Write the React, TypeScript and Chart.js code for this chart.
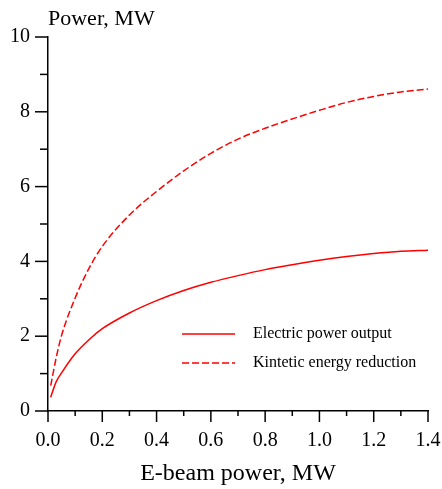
import { useEffect, useRef } from 'react';
import { Chart, registerables } from 'chart.js';

Chart.register(...registerables);

const beamPower = [0.01, 0.03, 0.05, 0.1, 0.15, 0.2, 0.3, 0.4, 0.5, 0.6, 0.7, 0.8, 0.9, 1.0, 1.1, 1.2, 1.3, 1.4];
const electricOutput = [0.37, 0.78, 1.02, 1.53, 1.9, 2.2, 2.62, 2.95, 3.22, 3.44, 3.62, 3.78, 3.91, 4.03, 4.13, 4.21, 4.27, 4.3];
const kineticReduction = [0.68, 1.42, 2.02, 3.02, 3.8, 4.4, 5.24, 5.87, 6.42, 6.89, 7.27, 7.56, 7.81, 8.04, 8.25, 8.41, 8.53, 8.61];
const seriesLabels = ['Electric power output', 'Kintetic energy reduction'];
const yTitle = 'Power, MW';
const xTitle = 'E-beam power, MW';

const FONT = "'Liberation Serif', 'Times New Roman', serif";

const tickMarks = {
  id: 'tickMarks',
  afterDraw(chart: any) {
    const ctx = chart.ctx;
    const xs = chart.scales.x;
    const ys = chart.scales.y;
    ctx.save();
    ctx.strokeStyle = '#000';
    ctx.lineWidth = 1.5;
    xs.ticks.forEach((t: any) => {
      const i = Math.round(t.value * 10);
      const px = xs.getPixelForValue(t.value);
      const len = i % 2 === 0 ? 11 : 5;
      ctx.beginPath();
      ctx.moveTo(px, xs.top);
      ctx.lineTo(px, xs.top + len);
      ctx.stroke();
    });
    ys.ticks.forEach((t: any) => {
      const i = Math.round(t.value);
      const py = ys.getPixelForValue(t.value);
      const len = i % 2 === 0 ? 13 : 8;
      ctx.beginPath();
      ctx.moveTo(ys.right, py);
      ctx.lineTo(ys.right - len, py);
      ctx.stroke();
    });
    ctx.restore();
  },
};

const titleAndLegend = {
  id: 'titleAndLegend',
  afterDraw(chart: any) {
    const ctx = chart.ctx;
    const area = chart.chartArea;
    ctx.save();
    ctx.fillStyle = '#000';
    ctx.font = `22px ${FONT}`;
    ctx.textAlign = 'left';
    ctx.textBaseline = 'alphabetic';
    ctx.fillText(yTitle, area.left, 25);

    const x0 = area.left + 134;
    const x1 = area.left + 187;
    const tx = area.left + 205;
    const rows = [area.top + 297, area.top + 326];
    chart.data.datasets.forEach((ds: any, i: number) => {
      ctx.strokeStyle = ds.borderColor;
      ctx.lineWidth = 1.5;
      ctx.setLineDash(ds.borderDash || []);
      ctx.beginPath();
      ctx.moveTo(x0, rows[i]);
      ctx.lineTo(x1, rows[i]);
      ctx.stroke();
      ctx.setLineDash([]);
      ctx.fillStyle = '#000';
      ctx.font = `16px ${FONT}`;
      ctx.textBaseline = 'middle';
      ctx.fillText(ds.label, tx, rows[i]);
    });
    ctx.restore();
  },
};

export default function App() {
  const ref = useRef<HTMLCanvasElement | null>(null);

  useEffect(() => {
    if (!ref.current) return;
    const chart = new Chart(ref.current, {
      type: 'line',
      data: {
        datasets: [
          {
            label: seriesLabels[0],
            data: beamPower.map((x, i) => ({ x, y: electricOutput[i] })),
            borderColor: '#ff0000',
            borderWidth: 1.5,
            pointRadius: 0,
            cubicInterpolationMode: 'monotone',
            fill: false,
          },
          {
            label: seriesLabels[1],
            data: beamPower.map((x, i) => ({ x, y: kineticReduction[i] })),
            borderColor: '#ff0000',
            borderWidth: 1.5,
            borderDash: [7, 3],
            pointRadius: 0,
            cubicInterpolationMode: 'monotone',
            fill: false,
          },
        ],
      },
      options: {
        responsive: false,
        animation: false,
        devicePixelRatio: 1,
        layout: { padding: { top: 37, right: 14, left: 0, bottom: 0 } },
        plugins: { legend: { display: false }, tooltip: { enabled: false }, title: { display: false } },
        scales: {
          x: {
            type: 'linear',
            min: 0,
            max: 1.4,
            afterFit: (s: any) => { s.height = 78; s.paddingLeft = 0; s.paddingRight = 0; },
            grid: { display: true, drawOnChartArea: false, drawTicks: false },
            border: { display: true, color: '#000', width: 1.5 },
            ticks: {
              stepSize: 0.1,
              padding: 18,
              maxRotation: 0,
              autoSkip: false,
              color: '#000',
              font: { family: FONT, size: 20 },
              callback: (v: any) => {
                const i = Math.round(Number(v) * 10);
                return i % 2 === 0 ? (i / 10).toFixed(1) : '';
              },
            },
            title: {
              display: true,
              text: xTitle,
              color: '#000',
              font: { family: FONT, size: 24 },
              padding: { top: 0, bottom: 1 },
            },
          },
          y: {
            type: 'linear',
            min: 0,
            max: 10,
            afterFit: (s: any) => { s.width = 48; s.paddingTop = 0; s.paddingBottom = 0; },
            grid: { display: true, drawOnChartArea: false, drawTicks: false },
            border: { display: true, color: '#000', width: 1.5 },
            ticks: {
              stepSize: 1,
              padding: 18,
              autoSkip: false,
              color: '#000',
              font: { family: FONT, size: 20 },
              callback: (v: any) => {
                const i = Math.round(Number(v));
                return i % 2 === 0 ? String(i) : '';
              },
            },
          },
        },
      },
      plugins: [tickMarks, titleAndLegend],
    });
    return () => chart.destroy();
  }, []);

  return (
    <div style={{ position: 'absolute', left: 0, top: 0, width: 442, height: 489, background: '#fff' }}>
      <canvas ref={ref} width={442} height={489} style={{ display: 'block', width: 442, height: 489 }} />
    </div>
  );
}
